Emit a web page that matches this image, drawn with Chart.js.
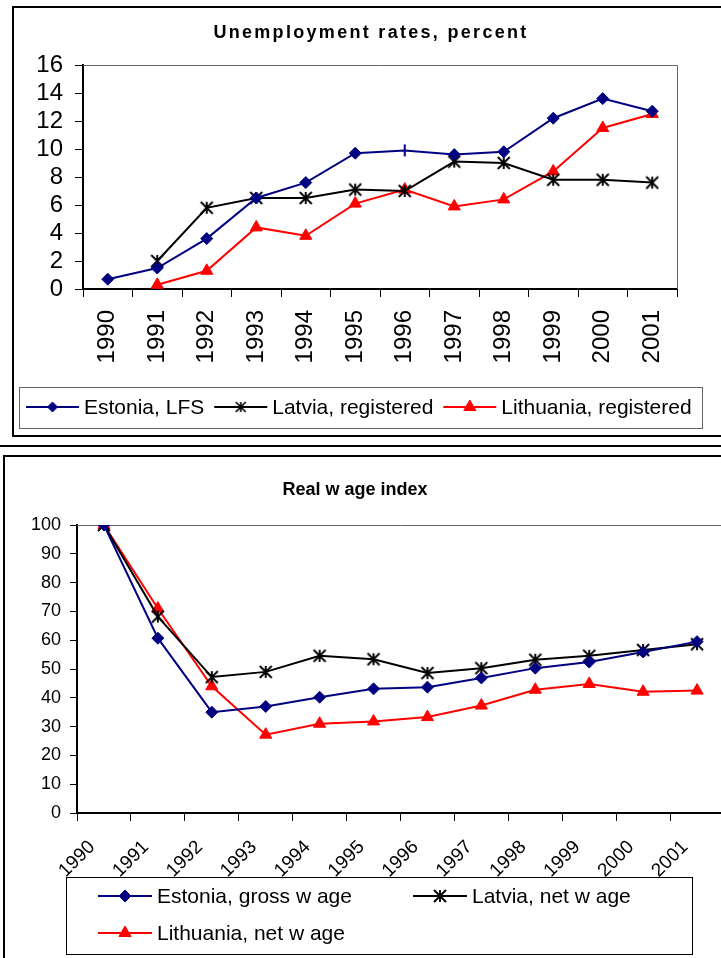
<!DOCTYPE html>
<html>
<head>
<meta charset="utf-8">
<script src="https://cdn.jsdelivr.net/npm/chart.js"></script>
<style>
  html, body { margin: 0; padding: 0; background: #fff; overflow: hidden; width: 721px; height: 958px; }
  canvas { position: absolute; }
  .frame { position: absolute; border: 2px solid #000; box-sizing: border-box; }
  .rule { position: absolute; left: 0; width: 721px; height: 2px; background: #000; }
</style>
</head>
<body>
<div class="frame" style="left:12px; top:6px; width:720px; height:431px;"></div>
<div class="rule" style="top:445px;"></div>
<div class="frame" style="left:3px; top:455px; width:730px; height:520px;"></div>
<canvas id="unemp" width="721" height="440" style="left:0; top:0;"></canvas>
<canvas id="wage" width="740" height="518" style="left:0; top:440px;"></canvas>
<script>
// categories
var years = ['1990', '1991', '1992', '1993', '1994', '1995', '1996', '1997', '1998', '1999', '2000', '2001'];

// unemployment rates, percent
var unempEstonia   = [0.7, 1.5, 3.6, 6.5, 7.6, 9.7, 9.9, 9.6, 9.8, 12.2, 13.6, 12.7];
var unempLatvia    = [null, 2.0, 5.8, 6.5, 6.5, 7.1, 7.0, 9.1, 9.0, 7.8, 7.8, 7.6];
var unempLithuania = [null, 0.3, 1.3, 4.4, 3.8, 6.1, 7.1, 5.9, 6.4, 8.4, 11.5, 12.5];

// real wage index, 1990 = 100
var wageEstonia   = [100, 60.7, 35.0, 37.0, 40.2, 43.1, 43.7, 46.9, 50.3, 52.4, 55.9, 59.5];
var wageLatvia    = [100, 68.2, 47.2, 49.0, 54.6, 53.4, 48.6, 50.3, 53.2, 54.6, 56.6, 58.6];
var wageLithuania = [100, 71.0, 44.0, 27.2, 31.0, 31.8, 33.3, 37.3, 42.8, 44.8, 42.1, 42.5];

var FONT = "'Liberation Sans', Arial, sans-serif";
var NAVY = '#000080', RED = '#ff0000', BLACK = '#000000';

// six armed star like the spreadsheet marker
function asterisk(h, color, w) {
    var c = document.createElement('canvas');
    var s = Math.ceil(2 * h + 4);
    c.width = s; c.height = s;
    var g = c.getContext('2d');
    var m = s / 2;
    g.strokeStyle = color;
    g.lineWidth = w;
    g.beginPath();
    g.moveTo(m, m - h); g.lineTo(m, m + h);
    g.moveTo(m - h, m - h); g.lineTo(m + h, m + h);
    g.moveTo(m - h, m + h); g.lineTo(m + h, m - h);
    g.stroke();
    return c;
}
var starBig = asterisk(6, BLACK, 1.9);
var starSmall = asterisk(5, BLACK, 1.6);

var boxTitle = {
    id: 'boxTitle',
    afterDraw: function(chart, args, o) {
        var ctx = chart.ctx;
        ctx.save();
        ctx.font = o.font;
        ctx.fillStyle = '#000';
        ctx.textAlign = 'center';
        ctx.textBaseline = 'alphabetic';
        if (o.spacing) ctx.letterSpacing = o.spacing + 'px';
        ctx.fillText(o.text, o.x, o.y);
        ctx.restore();
    }
};

var boxLegend = {
    id: 'boxLegend',
    afterDraw: function(chart, args, o) {
        var ctx = chart.ctx;
        var b = o.box;
        ctx.save();
        ctx.strokeStyle = o.borderColor;
        ctx.lineWidth = 1;
        ctx.strokeRect(b.x + 0.5, b.y + 0.5, b.w, b.h);
        ctx.font = o.font;
        ctx.textBaseline = 'middle';
        ctx.textAlign = 'left';
        var x = o.cols[0];
        chart.data.datasets.forEach(function(ds, i) {
            var lx, ly;
            if (o.flow) { lx = x; ly = o.rows[0]; }
            else { lx = o.cols[i % o.cols.length]; ly = o.rows[Math.floor(i / o.cols.length)]; }
            ctx.strokeStyle = ds.borderColor;
            ctx.lineWidth = 2;
            ctx.beginPath();
            ctx.moveTo(lx, ly); ctx.lineTo(lx + o.lineLen, ly);
            ctx.stroke();
            var mk = o.marks[i];
            ctx.fillStyle = ds.borderColor;
            ctx.lineWidth = 1;
            Chart.helpers.drawPoint(ctx, {pointStyle: mk.style, radius: mk.radius, rotation: 0, borderWidth: 1}, lx + o.lineLen / 2, ly);
            ctx.fillStyle = '#000';
            var tx = lx + o.lineLen + o.gap;
            ctx.fillText(ds.label, tx, ly + 1);
            x = tx + ctx.measureText(ds.label).width + o.itemGap;
        });
        ctx.restore();
    }
};

var plotFrame = {
    id: 'plotFrame',
    beforeDatasetsDraw: function(chart, args, o) {
        var a = chart.chartArea;
        var ctx = chart.ctx;
        ctx.save();
        ctx.strokeStyle = o.color;
        ctx.lineWidth = 1;
        ctx.beginPath();
        ctx.moveTo(a.left, a.top + 0.5);
        ctx.lineTo(a.right + 0.5, a.top + 0.5);
        ctx.lineTo(a.right + 0.5, a.bottom);
        ctx.stroke();
        ctx.restore();
    }
};

function axisX(size, rot, tickPad, labelOffset, height) {
    return {
        type: 'category',
        offset: true,
        grid: { offset: true, drawOnChartArea: false, tickLength: 8, color: BLACK, lineWidth: 1 },
        border: { color: BLACK, width: 2 },
        ticks: { color: BLACK, font: { family: FONT, size: size }, minRotation: rot, maxRotation: rot,
                 autoSkip: false, padding: tickPad, labelOffset: labelOffset },
        afterFit: function(s) { s.height = height; }
    };
}
function axisY(max, step, size, tickPad, tickLen, width) {
    return {
        min: 0, max: max,
        ticks: { stepSize: step, autoSkip: false, color: BLACK, font: { family: FONT, size: size }, padding: tickPad },
        grid: { drawOnChartArea: false, tickLength: tickLen, color: BLACK, lineWidth: 1 },
        border: { color: BLACK, width: 2 },
        afterFit: function(s) { s.width = width; }
    };
}

// --- Unemployment rates
var estStyle = years.map(function(y) { return y === '1996' ? 'line' : 'rectRot'; });
var estRot = years.map(function(y) { return y === '1996' ? 90 : 0; });
var estBw = years.map(function(y) { return y === '1996' ? 2 : 1; });

new Chart(document.getElementById('unemp').getContext('2d'), {
    type: 'line',
    data: {
        labels: years,
        datasets: [{
            label: 'Estonia, LFS',
            data: unempEstonia,
            borderColor: NAVY, backgroundColor: NAVY,
            pointBackgroundColor: NAVY, pointBorderColor: NAVY,
            borderWidth: 2, pointRadius: 6, pointBorderWidth: estBw,
            pointStyle: estStyle, pointRotation: estRot
        }, {
            label: 'Latvia, registered',
            data: unempLatvia,
            borderColor: BLACK, backgroundColor: BLACK,
            borderWidth: 2, pointRadius: 6, pointStyle: starBig
        }, {
            label: 'Lithuania, registered',
            data: unempLithuania,
            borderColor: RED, backgroundColor: RED,
            pointBackgroundColor: RED, pointBorderColor: RED,
            borderWidth: 2, pointRadius: 7, pointBorderWidth: 1, pointStyle: 'triangle'
        }]
    },
    options: {
        responsive: false, animation: false, devicePixelRatio: 1,
        layout: { padding: { top: 65, right: 44, bottom: 0, left: 0 } },
        scales: {
            x: axisX(24, 90, 13, 0, 151),
            y: axisY(16, 2, 24, 12, 8, 83)
        },
        plugins: {
            legend: { display: false },
            tooltip: { enabled: false },
            plotFrame: { color: '#666' },
            boxTitle: { text: 'Unemployment rates, percent', x: 371, y: 38, font: 'bold 18px ' + FONT, spacing: 2.3 },
            boxLegend: {
                box: { x: 19, y: 387, w: 683, h: 41 }, borderColor: '#666',
                font: '21px ' + FONT, flow: true, cols: [26], rows: [407],
                lineLen: 53, gap: 5, itemGap: 10,
                marks: [{ style: 'rectRot', radius: 5 }, { style: starSmall, radius: 5 }, { style: 'triangle', radius: 7 }]
            }
        }
    },
    plugins: [plotFrame, boxTitle, boxLegend]
});

// --- Real wage index
new Chart(document.getElementById('wage').getContext('2d'), {
    type: 'line',
    data: {
        labels: years,
        datasets: [{
            label: 'Estonia, gross w age',
            data: wageEstonia,
            borderColor: NAVY, backgroundColor: NAVY,
            pointBackgroundColor: NAVY, pointBorderColor: NAVY,
            borderWidth: 2, pointRadius: 6, pointBorderWidth: 1, pointStyle: 'rectRot'
        }, {
            label: 'Latvia, net w age',
            data: wageLatvia,
            borderColor: BLACK, backgroundColor: BLACK,
            borderWidth: 2, pointRadius: 6, pointStyle: starBig
        }, {
            label: 'Lithuania, net w age',
            data: wageLithuania,
            borderColor: RED, backgroundColor: RED,
            pointBackgroundColor: RED, pointBorderColor: RED,
            borderWidth: 2, pointRadius: 7, pointBorderWidth: 1, pointStyle: 'triangle'
        }]
    },
    options: {
        responsive: false, animation: false, devicePixelRatio: 1,
        layout: { padding: { top: 85, right: 16, bottom: 0, left: 0 } },
        scales: {
            x: axisX(19, 45, 15, -12, 145),
            y: axisY(100, 10, 18, 9, 7, 77)
        },
        plugins: {
            legend: { display: false },
            tooltip: { enabled: false },
            plotFrame: { color: '#666' },
            boxTitle: { text: 'Real w age index', x: 355, y: 55, font: 'bold 18px ' + FONT },
            boxLegend: {
                box: { x: 66, y: 437, w: 626, h: 77 }, borderColor: '#000',
                font: '21px ' + FONT, flow: false, cols: [98, 413], rows: [456, 493],
                lineLen: 54, gap: 5, itemGap: 10,
                marks: [{ style: 'rectRot', radius: 6 }, { style: starBig, radius: 6 }, { style: 'triangle', radius: 7 }]
            }
        }
    },
    plugins: [plotFrame, boxTitle, boxLegend]
});
</script>
</body>
</html>
